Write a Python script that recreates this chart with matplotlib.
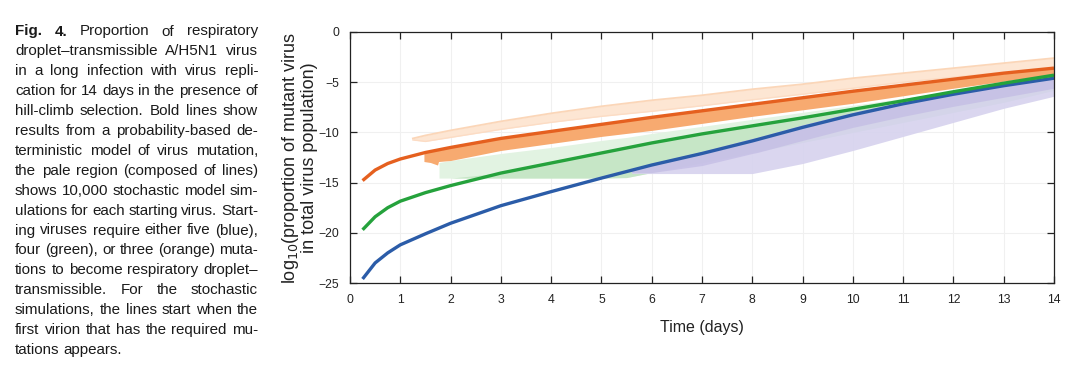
import matplotlib
matplotlib.use('Agg')
import matplotlib.pyplot as plt

# Curvas deterministas (líneas gruesas)
t_det = [0.25, 0.5, 0.75, 1, 1.5, 2, 3, 4, 5, 6, 7, 8, 9, 10, 11, 12, 13, 14]
orange_det = [-14.8, -13.75, -13.1, -12.65, -12.0, -11.5, -10.6, -9.9, -9.2, -8.5,
              -7.85, -7.2, -6.55, -5.9, -5.3, -4.7, -4.1, -3.6]
green_det = [-19.7, -18.4, -17.5, -16.85, -16.0, -15.3, -14.05, -13.05, -12.05, -11.05,
             -10.15, -9.35, -8.55, -7.7, -6.85, -5.95, -5.1, -4.3]
blue_det = [-24.6, -23.0, -22.0, -21.2, -20.1, -19.05, -17.3, -15.9, -14.55, -13.25,
            -12.1, -10.85, -9.5, -8.25, -7.15, -6.2, -5.35, -4.6]

# Región pálida naranja (por encima de la línea gruesa)
t_op = [1.25, 1.5, 2, 3, 4, 5, 6, 7, 8, 9, 10, 11, 12, 13, 14]
op_hi = [-10.6, -10.3, -9.8, -8.9, -8.1, -7.4, -6.8, -6.3, -5.7, -5.2, -4.6, -4.1, -3.6, -3.1, -2.6]
op_lo = [-10.75, -10.9, -10.5, -9.7, -9.0, -8.4, -7.9, -7.35, -6.75, -6.2, -5.6, -5.0, -4.5, -4.0, -3.5]

# Banda naranja intensa (debajo de la línea gruesa)
t_om = [1.47, 1.6, 1.74, 1.76, 2, 3, 4, 5, 6, 7, 8, 10, 12, 14]
om_hi = [-12.0, -11.9, -11.8, -11.8, -11.5, -10.6, -9.9, -9.2, -8.5, -7.85, -7.2, -5.9, -4.7, -3.6]
om_lo = [-12.9, -13.0, -13.25, -12.9, -12.8, -11.8, -11.1, -10.4, -9.8, -9.1, -8.4, -7.1, -5.6, -4.2]

# Región verde
t_g = [1.77, 2, 3, 4, 5, 5.5, 6, 7, 8, 9, 10, 11, 12, 13, 14]
g_hi = [-13.0, -12.8, -12.1, -11.5, -10.8, -10.5, -10.1, -9.4, -8.7, -8.0, -7.3, -6.6, -5.9, -5.2, -4.4]
g_mid = [-14.55, -14.55, -14.05, -13.05, -12.05, -11.55, -11.05, -10.15, -9.35, -8.55,
         -7.7, -6.85, -5.95, -5.1, -4.3]
g_lo = [-14.55, -14.55, -14.55, -14.55, -14.55, -14.5, -14.0, -13.0, -12.0, -11.0,
        -10.0, -9.0, -8.0, -7.0, -5.8]

# Región azul/morada
t_p = [5.6, 6, 7, 8, 8.1, 9, 10, 11, 12, 13, 14]
p_hi = [-13.75, -13.1, -11.9, -10.6, -10.5, -9.25, -8.0, -6.95, -6.0, -5.15, -4.4]
p_mid = [-14.0, -14.0, -13.3, -12.1, -12.0, -10.8, -9.5, -8.4, -7.4, -6.5, -5.6]
p_lo = [-14.1, -14.1, -14.1, -14.1, -14.0, -13.1, -11.8, -10.4, -9.0, -7.6, -6.4]

x_ticks = list(range(0, 15))
y_ticks = [0, -5, -10, -15, -20, -25]
y_tick_labels = ['0', '−5', '−10', '−15', '−20', '−25']

caption = [
    "Fig. 4. Proportion of respiratory",
    "droplet–transmissible A/H5N1 virus",
    "in a long infection with virus repli-",
    "cation for 14 days in the presence of",
    "hill-climb selection. Bold lines show",
    "results from a probability-based de-",
    "terministic model of virus mutation,",
    "the pale region (composed of lines)",
    "shows 10,000 stochastic model sim-",
    "ulations for each starting virus. Start-",
    "ing viruses require either five (blue),",
    "four (green), or three (orange) muta-",
    "tions to become respiratory droplet–",
    "transmissible. For the stochastic",
    "simulations, the lines start when the",
    "first virion that has the required mu-",
    "tations appears.",
]

W, H = 1078, 378
fig = plt.figure(figsize=(W / 100, H / 100), dpi=100)
ax = fig.add_axes([350 / W, 1 - 283 / H, 704 / W, 251 / H])

ax.fill_between(t_op, op_lo, op_hi, color='#fde6d3', lw=0)
ax.plot(t_op, op_hi, color='#fbd6b8', lw=1.3)
ax.plot(t_op, op_lo, color='#fcdcc4', lw=1.0)
ax.fill_between(t_g, g_lo, g_hi, color='#e2f3e2', lw=0)
ax.fill_between(t_g, g_lo, g_mid, color='#bfe3bf', alpha=0.8, lw=0)
ax.fill_between(t_p, p_lo, p_hi, color='#d6d2ee', alpha=0.9, lw=0)
ax.fill_between(t_p, p_mid, p_hi, color='#c2bbe4', alpha=0.7, lw=0)
ax.fill_between(t_om, om_lo, om_hi, color='#f7aa70', lw=0)

ax.plot(t_det, blue_det, color='#2b5ca8', lw=2.4, solid_capstyle='butt')
ax.plot(t_det, green_det, color='#25a23c', lw=2.4, solid_capstyle='butt')
ax.plot(t_det, orange_det, color='#e5601f', lw=2.4, solid_capstyle='butt')

ax.set_xlim(0, 14)
ax.set_ylim(-25, 0)
ax.set_xticks(x_ticks)
ax.set_yticks(y_ticks)
ax.set_yticklabels(y_tick_labels)
ax.grid(True, color='#f0f0f0', lw=0.8)
ax.set_axisbelow(True)
ax.tick_params(direction='in', top=True, right=True, length=5, width=0.9,
               labelsize=8.8, colors='#222222', pad=8)
for s in ax.spines.values():
    s.set_color('#222222')
    s.set_linewidth(0.9)
sans = ['Liberation Sans', 'DejaVu Sans']
for lab in ax.get_xticklabels() + ax.get_yticklabels():
    lab.set_family(sans)

ax.set_xlabel('Time (days)', fontsize=11.5, family=sans, labelpad=10, color='#222222')
ax.set_ylabel('log$_{10}$(proportion of mutant virus\nin total virus population)',
              fontsize=13, family=sans, color='#222222', labelpad=0, linespacing=1.0)

# Pie de figura justificado, palabra por palabra
renderer = fig.canvas.get_renderer()
x0, x1 = 15, 258
for i, line in enumerate(caption):
    y = 1 - (31.5 + 19.9 * i) / H
    words = line.split(' ')
    texts = []
    widths = []
    for j, w in enumerate(words):
        wt = 'bold' if (i == 0 and j < 2) else 'normal'
        tx = fig.text(0, y, w, fontsize=10.9, family=sans, weight=wt,
                      va='center', ha='left', color='#1a1a1a')
        texts.append(tx)
        widths.append(tx.get_window_extent(renderer).width)
    if i == len(caption) - 1:
        gap = 3.5
    else:
        gap = max(1.5, (x1 - x0 - sum(widths)) / (len(words) - 1))
    x = x0
    for tx, wd in zip(texts, widths):
        tx.set_x(x / W)
        x += wd + gap

fig.savefig('out.png', dpi=100)
